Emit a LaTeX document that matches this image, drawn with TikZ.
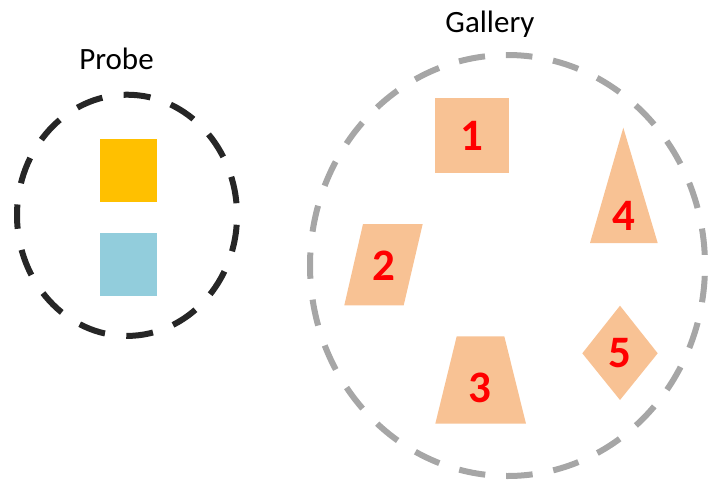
\documentclass[tikz,border=0pt]{standalone}
\usepackage{fontspec}
\setmainfont{Carlito}
\definecolor{piecefill}{HTML}{F8C294}
\definecolor{probeyellow}{HTML}{FFC000}
\definecolor{probeblue}{HTML}{92CDDC}
\definecolor{probering}{HTML}{262626}
\definecolor{galring}{HTML}{A6A6A6}
\begin{document}
\begin{tikzpicture}[x=1pt,y=-1pt,
  piece/.style={fill=piecefill},
  num/.style={text=red, font=\fontsize{45}{45}\selectfont\bfseries, anchor=base, inner sep=0pt},
  title/.style={font=\fontsize{31}{31}\selectfont, anchor=base, inner sep=0pt},
  ring/.style={line width=6pt}]
\useasboundingbox (0,0) rectangle (709,480);
% Probe
\draw[ring, draw=probering, dash pattern=on 27pt off 21.5pt, dash phase=13.5pt]
  (17,215.3) arc[start angle=180, end angle=540, x radius=110pt, y radius=120.6pt];
\fill[probeyellow] (100,139) rectangle (157,202);
\fill[probeblue] (100,233) rectangle (157,296);
\node[title] (probe) at (116.5,69.3) {Probe};
% Gallery
\draw[ring, draw=galring, dash pattern=on 26.5pt off 21pt, dash phase=13.25pt]
  (310,265.5) arc[start angle=180, end angle=540, x radius=197.5pt, y radius=210.5pt];
\node[title] (gallery) at (490,32.3) {Gallery};
\fill[piece] (435,98) rectangle (509,173);
\fill[piece] (344.3,305.3) -- (403.7,305.3) -- (422.7,224) -- (363,224) -- cycle;
\fill[piece] (456.7,336.3) -- (504.3,336.3) -- (526,423.7) -- (435.3,423.7) -- cycle;
\fill[piece] (623.3,127.7) -- (657.7,243) -- (590,243) -- cycle;
\fill[piece] (620,305.7) -- (657.7,353.3) -- (620,400) -- (582.3,353.3) -- cycle;
\node[num] (n1) at (472,150.7) {1};
\node[num] (n2) at (383.7,280) {2};
\node[num] (n3) at (480.3,402.3) {3};
\node[num] (n4) at (623.8,230) {4};
\node[num] (n5) at (620.3,367.3) {5};
\end{tikzpicture}
\end{document}
